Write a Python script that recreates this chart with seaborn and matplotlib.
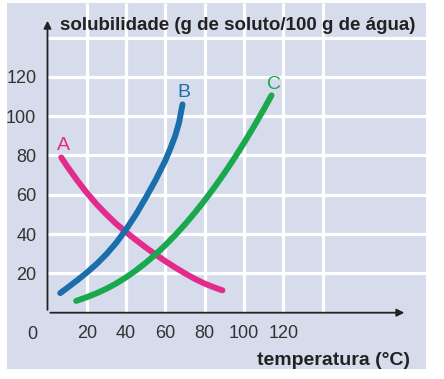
import numpy as np
import pandas as pd
import seaborn as sns
import matplotlib.pyplot as plt

# curves (temperature in C, solubility in g / 100 g water)
a_temp = [7, 10, 15, 20, 25, 30, 35, 40, 45, 50, 55, 60, 65, 70, 75, 80, 85, 89]
a_sol = [79, 74.5, 67.5, 61, 55.2, 50, 45.2, 41, 37, 33.2, 29.6, 26.2, 23, 20, 17.2, 14.8, 12.8, 11.4]

b_temp = [6.5, 10, 15, 20, 25, 30, 35, 40, 45, 50, 55, 60, 62.5, 65, 67, 68.7]
b_sol = [10, 12.6, 16.4, 20.4, 24.8, 29.8, 35.6, 42.4, 50, 58.5, 67.5, 77.5, 83.5, 90, 97, 106]

c_temp = [14.6, 20, 25, 30, 35, 40, 45, 50, 55, 60, 65, 70, 75, 80, 85, 90, 95, 100, 105, 110, 114]
c_sol = [6, 7.9, 9.9, 12.2, 14.9, 18, 21.5, 25.4, 29.7, 34.4, 39.5, 45, 50.9, 57.2, 63.9, 71, 78.5, 86.4, 94.7, 103.4, 110.6]

x_ticks = [20, 40, 60, 80, 100, 120]
y_ticks = [20, 40, 60, 80, 100, 120]
x_grid = [20, 40, 60, 80, 100, 120, 140]
y_grid = [20, 40, 60, 80, 100, 120, 140]

pink = "#e22b8a"
blue = "#1a6eaa"
green = "#1aa84c"
panel = "#d6dcec"
ink = "#222222"

sns.set_theme(style="white")
plt.rcParams["font.family"] = ["Liberation Sans", "DejaVu Sans"]

fig = plt.figure(figsize=(4.44, 3.79), dpi=100)
fig.patch.set_facecolor("white")
ax = fig.add_axes([7 / 444, 10 / 379, 419 / 444, 366 / 379])
ax.set_facecolor(panel)
ax.set_xlim(-20.6, 192.6)
ax.set_ylim(-28.65, 157.6)

# white grid, only inside the first quadrant
ax.vlines(x_grid, 0, 157.6, color="white", lw=2.3, zorder=1)
ax.hlines(y_grid, 0, 192.6, color="white", lw=2.3, zorder=1)

line_kw = dict(lw=4.3, sort=False, ax=ax, zorder=3, solid_capstyle="round")
sns.lineplot(x=a_temp, y=a_sol, color=pink, **line_kw)
sns.lineplot(x=b_temp, y=b_sol, color=blue, **line_kw)
sns.lineplot(x=c_temp, y=c_sol, color=green, **line_kw)

ax.text(8.1, 85, "A", color=pink, fontsize=14, ha="center", va="center")
ax.text(69.5, 112, "B", color=blue, fontsize=14, ha="center", va="center")
ax.text(115.5, 116, "C", color=green, fontsize=14, ha="center", va="center")

# axes with arrows
for s in ["top", "right", "left", "bottom"]:
    ax.spines[s].set_visible(False)
ax.spines["left"].set_position(("data", 0))
ax.spines["bottom"].set_position(("data", 0))
arrow = dict(arrowstyle="-|>", color=ink, lw=1.3, mutation_scale=11)
ax.annotate("", xy=(183, 0), xytext=(0, 0), arrowprops=arrow, zorder=4)
ax.annotate("", xy=(0, 150), xytext=(0, 0), arrowprops=arrow, zorder=4)

ax.set_xticks(x_ticks)
ax.set_yticks(y_ticks)
ax.tick_params(axis="both", direction="inout", length=10, width=1.3, color=ink,
               labelsize=13, labelcolor="#333333")
ax.tick_params(axis="x", pad=4)
ax.tick_params(axis="y", pad=3)
ax.text(-7.5, -11, "0", fontsize=13, color="#333333", ha="center", va="center")

ax.text(6.4, 146.4, "solubilidade (g de soluto/100 g de água)", fontsize=13.5,
        fontweight="bold", color=ink, ha="left", va="center")
ax.text(184.5, -24.3, "temperatura (°C)", fontsize=14, fontweight="bold",
        color=ink, ha="right", va="center")

fig.savefig("out.png", dpi=100, facecolor="white")
